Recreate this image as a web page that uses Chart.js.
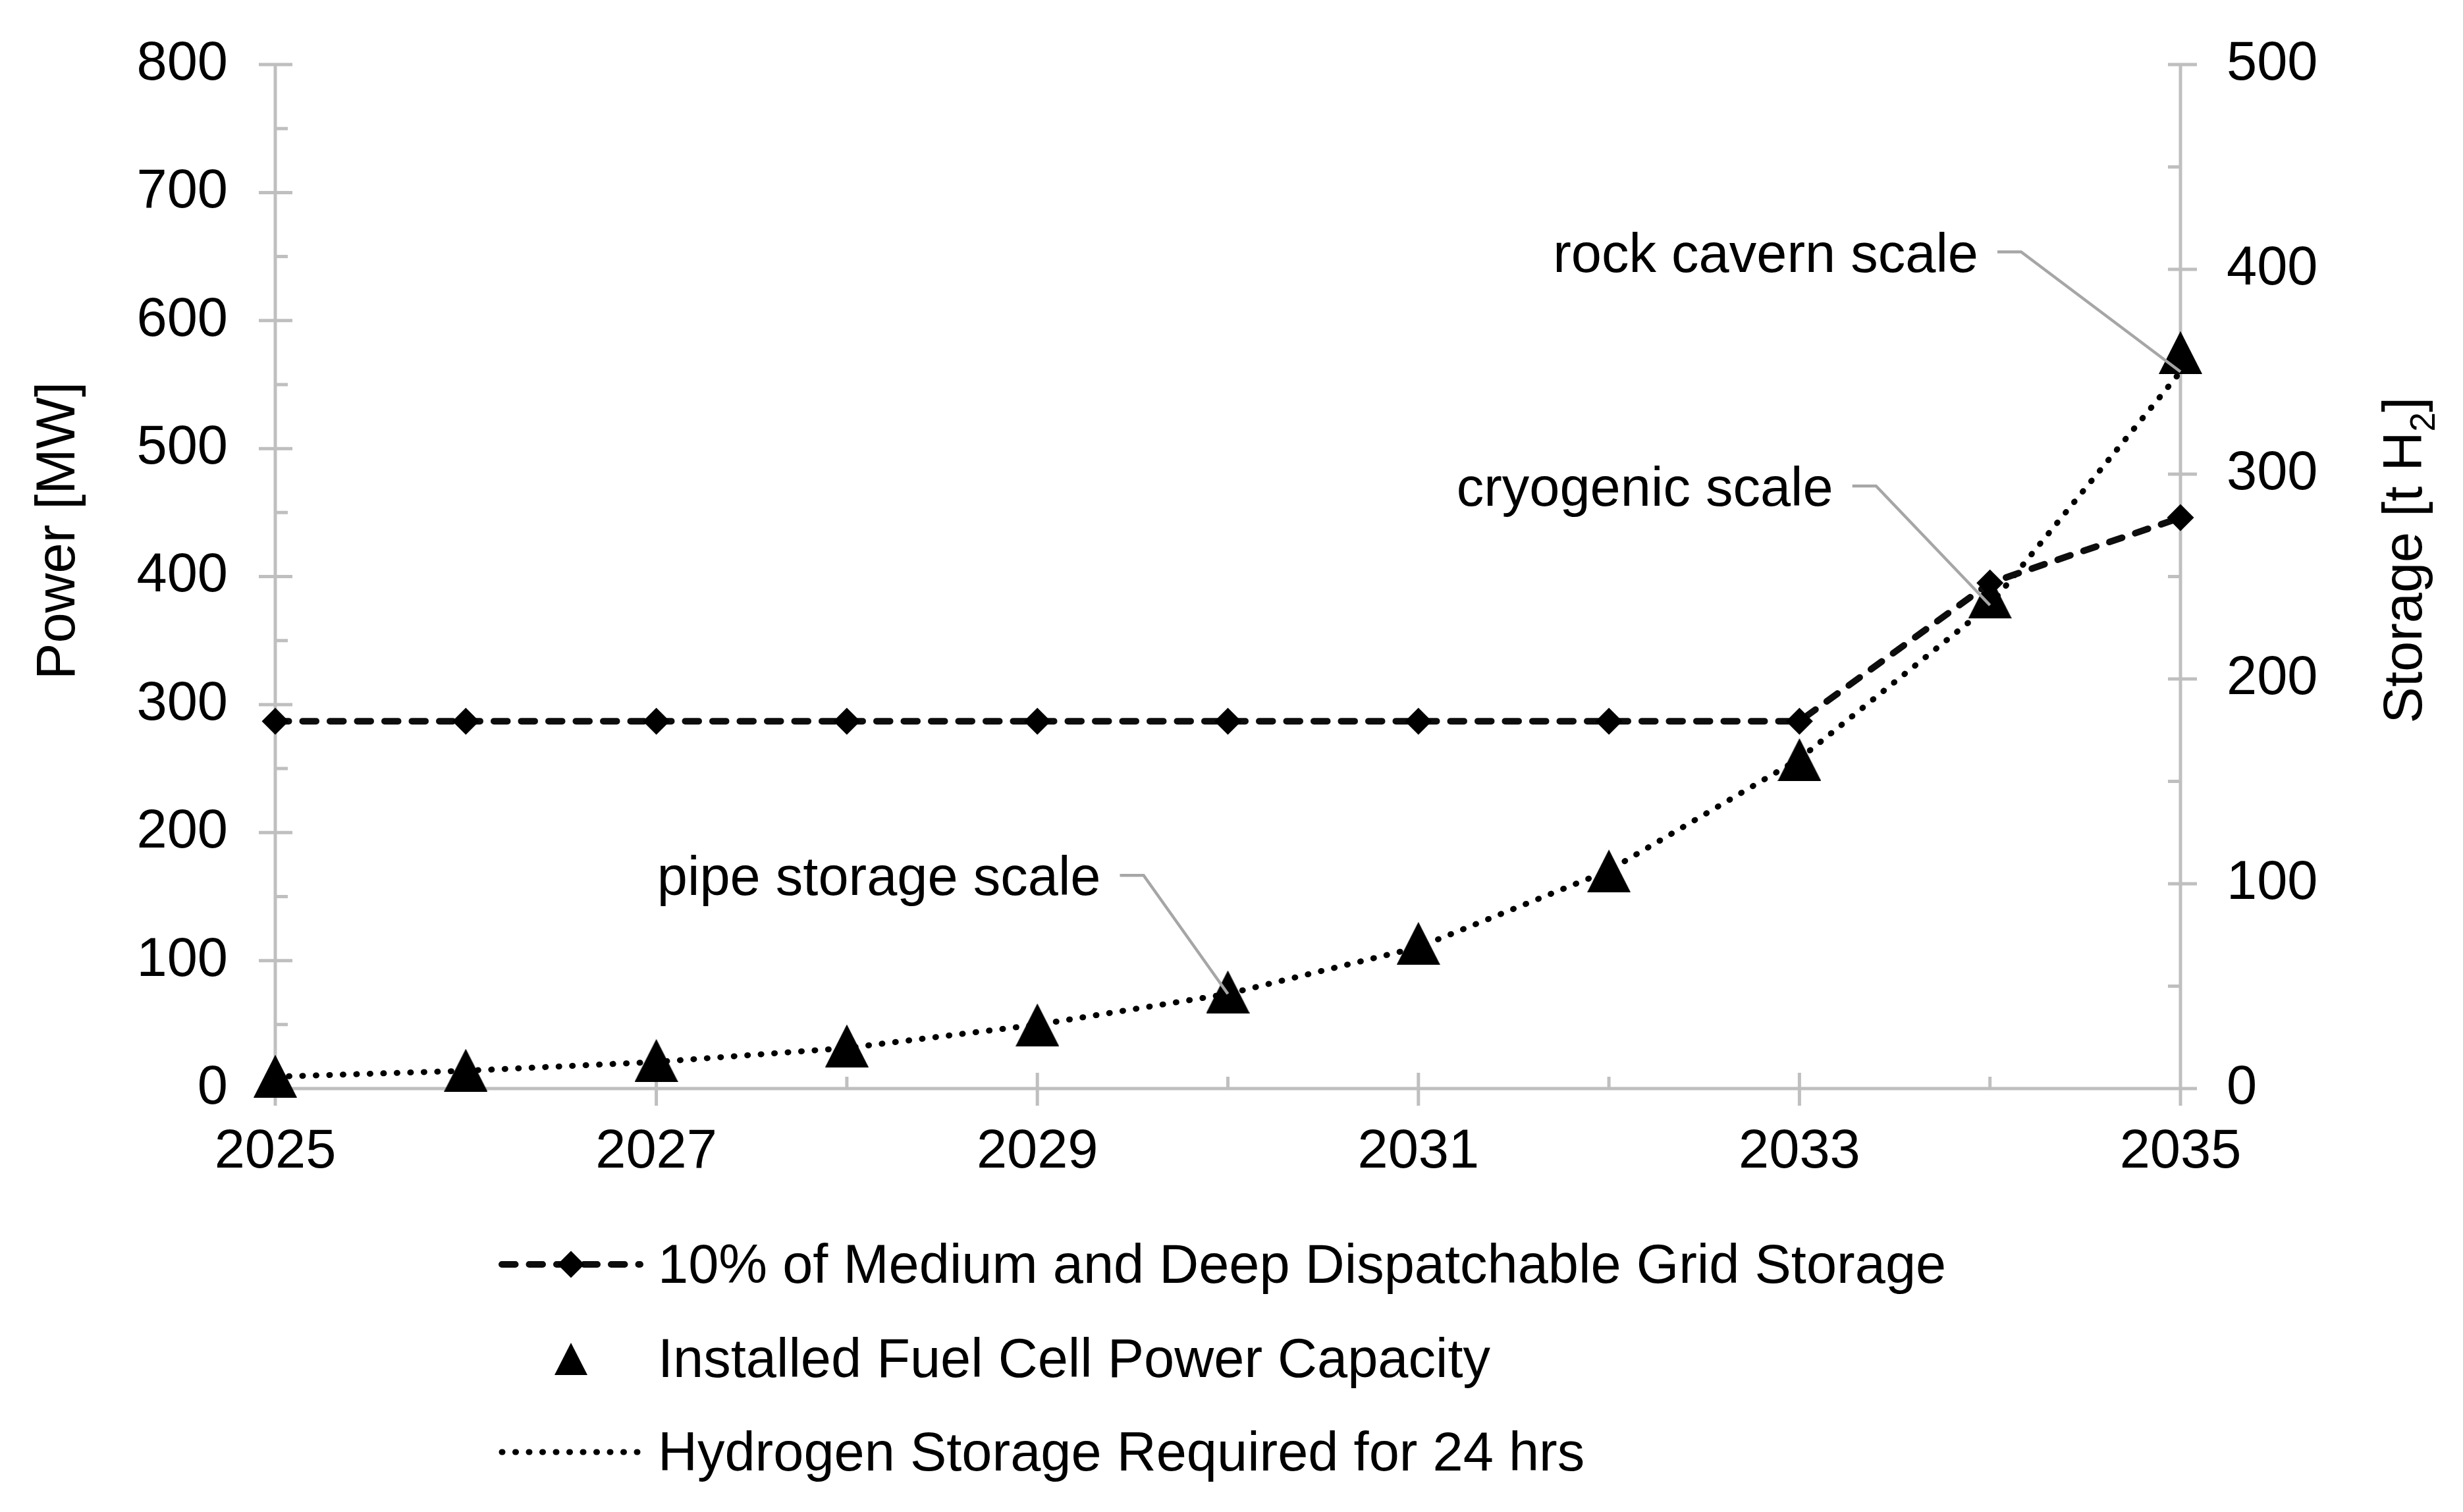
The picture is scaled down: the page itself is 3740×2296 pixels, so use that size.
<!DOCTYPE html>
<html>
<head>
<meta charset="utf-8">
<title>Power and hydrogen storage 2025-2035</title>
<script src="https://cdn.jsdelivr.net/npm/chart.js@4.4.0/dist/chart.umd.min.js"></script>
<style>
  html, body { margin: 0; padding: 0; background: #fff; }
  canvas { display: block; }
</style>
</head>
<body>
<canvas id="myChart" width="3740" height="2296"></canvas>
<script>
// data
const years = [2025, 2026, 2027, 2028, 2029, 2030, 2031, 2032, 2033, 2034, 2035];
const gridStorage = [287, 287, 287, 287, 287, 287, 287, 287, 287, 395, 446];   // MW
const fuelCellPower = [9.7, 14.4, 22, 33.4, 49.8, 75.6, 113.5, 170, 257, 384, 575]; // MW
const h2Storage = [5.8, 8.7, 13, 19.8, 31.2, 46.2, 69, 106.5, 161, 236, 350];   // t H2
const seriesLabels = [
  "10% of Medium and Deep Dispatchable Grid Storage",
  "Installed Fuel Cell Power Capacity",
  "Hydrogen Storage Required for 24 hrs"
];
const powerRange = [0, 800];
const storageRange = [0, 500];
const annotationLabels = ["pipe storage scale", "cryogenic scale", "rock cavern scale"];
const annotationYears = [2030, 2034, 2035];

const FONT = '"Liberation Sans", Arial, Helvetica, sans-serif';
const TEXT = "83px " + FONT;
const AXIS_COLOR = "#bfbfbf";
const LEADER_COLOR = "#a6a6a6";

function triangleImage(w, h) {
  const c = document.createElement("canvas");
  c.width = w; c.height = h;
  const g = c.getContext("2d");
  g.fillStyle = "#000";
  g.beginPath();
  g.moveTo(0, h); g.lineTo(w / 2, 0); g.lineTo(w, h);
  g.closePath();
  g.fill();
  return c;
}
const plotTriangle = triangleImage(66, 65);
const legendTriangle = triangleImage(50, 49);

function xy(values) {
  return values.map((v, i) => ({ x: years[i], y: v }));
}

// axis lines and excel style tick marks (cross for major, inside for minor)
const axisMarks = {
  id: "axisMarks",
  beforeDatasetsDraw(chart) {
    const { ctx, chartArea: a, scales } = chart;
    const { x, y, y1 } = scales;
    ctx.save();
    ctx.strokeStyle = AXIS_COLOR;
    ctx.lineWidth = 5;
    ctx.lineCap = "butt";
    ctx.beginPath();
    ctx.moveTo(a.left, a.top); ctx.lineTo(a.left, a.bottom);
    ctx.moveTo(a.right, a.top); ctx.lineTo(a.right, a.bottom);
    ctx.moveTo(a.left, a.bottom); ctx.lineTo(a.right, a.bottom);

    y.ticks.forEach((t, i) => {
      const py = y.getPixelForValue(t.value);
      ctx.moveTo(a.left - 25, py); ctx.lineTo(a.left + 26, py);
      if (i > 0) {
        const pm = y.getPixelForValue((t.value + y.ticks[i - 1].value) / 2);
        ctx.moveTo(a.left, pm); ctx.lineTo(a.left + 19, pm);
      }
    });
    y1.ticks.forEach((t, i) => {
      const py = y1.getPixelForValue(t.value);
      ctx.moveTo(a.right - 19, py); ctx.lineTo(a.right + 25, py);
      if (i > 0) {
        const pm = y1.getPixelForValue((t.value + y1.ticks[i - 1].value) / 2);
        ctx.moveTo(a.right - 19, pm); ctx.lineTo(a.right, pm);
      }
    });
    const majors = x.ticks.map(t => t.value);
    years.forEach(yr => {
      const px = x.getPixelForValue(yr);
      if (majors.includes(yr)) {
        ctx.moveTo(px, a.bottom - 24); ctx.lineTo(px, a.bottom + 26);
      } else {
        ctx.moveTo(px, a.bottom - 18); ctx.lineTo(px, a.bottom);
      }
    });
    ctx.stroke();
    ctx.restore();
  }
};

// leader lines with labels pointing at the storage curve
const leaders = {
  id: "leaders",
  afterDatasetsDraw(chart) {
    const ctx = chart.ctx;
    const meta = chart.getDatasetMeta(2);
    const offsets = [[-128, -180], [-173, -181], [-242, -182]];
    ctx.save();
    ctx.font = TEXT;
    ctx.fillStyle = "#000";
    ctx.textAlign = "right";
    ctx.textBaseline = "alphabetic";
    annotationLabels.forEach((txt, i) => {
      const pt = meta.data[years.indexOf(annotationYears[i])];
      const ex = pt.x + offsets[i][0];
      const ey = pt.y + offsets[i][1];
      ctx.strokeStyle = LEADER_COLOR;
      ctx.lineWidth = 4.5;
      ctx.beginPath();
      ctx.moveTo(pt.x, pt.y);
      ctx.lineTo(ex, ey);
      ctx.lineTo(ex - 36, ey);
      ctx.stroke();
      ctx.fillText(txt, ex - 36 - 29, ey + 30);
    });
    ctx.restore();
  }
};

// axis titles and the stacked legend under the plot
const titlesAndLegend = {
  id: "titlesAndLegend",
  afterDraw(chart) {
    const ctx = chart.ctx;
    ctx.save();
    ctx.fillStyle = "#000";
    ctx.font = TEXT;
    ctx.textBaseline = "alphabetic";

    ctx.save();
    ctx.translate(113, 806);
    ctx.rotate(-Math.PI / 2);
    ctx.textAlign = "center";
    ctx.fillText("Power [MW]", 0, 0);
    ctx.restore();

    ctx.save();
    ctx.translate(3677, 603);
    ctx.rotate(-Math.PI / 2);
    ctx.textAlign = "left";
    const p1 = "Storage [t H", p2 = "2", p3 = "]";
    const sub = "53px " + FONT;
    ctx.font = TEXT;
    const w1 = ctx.measureText(p1).width, w3 = ctx.measureText(p3).width;
    ctx.font = sub;
    const w2 = ctx.measureText(p2).width;
    const s = -(w1 + w2 + w3);
    ctx.font = TEXT;
    ctx.fillText(p1, s, 0);
    ctx.font = sub;
    ctx.fillText(p2, s + w1, 20);
    ctx.font = TEXT;
    ctx.fillText(p3, s + w1 + w2, 0);
    ctx.restore();

    const x0 = 762, x1 = 972, mid = 867, tx = 999;
    chart.data.datasets.forEach((ds, i) => {
      const base = 1948 + i * 142.5;
      const cy = base - 28;
      if (ds.showLine !== false) {
        ctx.save();
        ctx.strokeStyle = ds.borderColor;
        ctx.lineWidth = ds.borderWidth;
        ctx.lineCap = "round";
        ctx.setLineDash(ds.borderDash || []);
        ctx.beginPath();
        ctx.moveTo(x0, cy); ctx.lineTo(x1, cy);
        ctx.stroke();
        ctx.restore();
      }
      if (ds.pointStyle === "rectRot") {
        const r = ds.pointRadius;
        ctx.beginPath();
        ctx.moveTo(mid - r, cy); ctx.lineTo(mid, cy - r);
        ctx.lineTo(mid + r, cy); ctx.lineTo(mid, cy + r);
        ctx.closePath();
        ctx.fill();
      } else if (ds.pointStyle === plotTriangle) {
        ctx.drawImage(legendTriangle, mid - legendTriangle.width / 2, cy + 1 - legendTriangle.height / 2);
      }
      ctx.textAlign = "left";
      ctx.fillText(ds.label, tx, base);
    });
    ctx.restore();
  }
};

// keep the vertical scales from pushing the plot area down with their label padding
function fixVertical(width) {
  return s => {
    s.width = width;
    s.paddingTop = 0;
    s.paddingBottom = 0;
  };
}

const tickFont = { family: FONT, size: 83 };
const ctx = document.getElementById("myChart").getContext("2d");
const myChart = new Chart(ctx, {
  type: "line",
  data: {
    datasets: [
      {
        label: seriesLabels[0],
        data: xy(gridStorage),
        yAxisID: "y",
        borderColor: "#0d0d0d",
        borderWidth: 10,
        borderDash: [20.5, 21],
        borderCapStyle: "round",
        pointStyle: "rectRot",
        pointRadius: 20.5,
        pointHoverRadius: 20.5,
        pointBackgroundColor: "#000",
        pointBorderWidth: 0,
        tension: 0,
        clip: false
      },
      {
        label: seriesLabels[1],
        data: xy(fuelCellPower),
        yAxisID: "y",
        showLine: false,
        pointStyle: plotTriangle,
        pointRadius: 33,
        pointHoverRadius: 33,
        pointBorderWidth: 0,
        clip: false
      },
      {
        label: seriesLabels[2],
        data: xy(h2Storage),
        yAxisID: "y1",
        borderColor: "#000",
        borderWidth: 9,
        borderDash: [1, 19.5],
        borderCapStyle: "round",
        pointRadius: 0,
        tension: 0,
        clip: false
      }
    ]
  },
  options: {
    responsive: false,
    devicePixelRatio: 1,
    animation: false,
    events: [],
    layout: { padding: { top: 98, bottom: 443, left: 0, right: 0 } },
    plugins: { legend: { display: false }, tooltip: { enabled: false } },
    scales: {
      x: {
        type: "linear",
        min: years[0],
        max: years[years.length - 1],
        grid: { display: false, drawTicks: false },
        border: { display: false },
        ticks: {
          stepSize: 2,
          maxRotation: 0,
          padding: 47,
          color: "#000",
          font: tickFont,
          callback: v => String(v)
        },
        afterFit: s => { s.height = 200; }
      },
      y: {
        position: "left",
        min: powerRange[0],
        max: powerRange[1],
        grid: { display: false, drawTicks: false },
        border: { display: false },
        ticks: { stepSize: 100, padding: 72, color: "#000", font: tickFont },
        afterFit: fixVertical(418)
      },
      y1: {
        position: "right",
        min: storageRange[0],
        max: storageRange[1],
        grid: { display: false, drawTicks: false },
        border: { display: false },
        ticks: { stepSize: 100, padding: 70, color: "#000", font: tickFont },
        afterFit: fixVertical(429)
      }
    }
  },
  plugins: [axisMarks, leaders, titlesAndLegend]
});
</script>
</body>
</html>
